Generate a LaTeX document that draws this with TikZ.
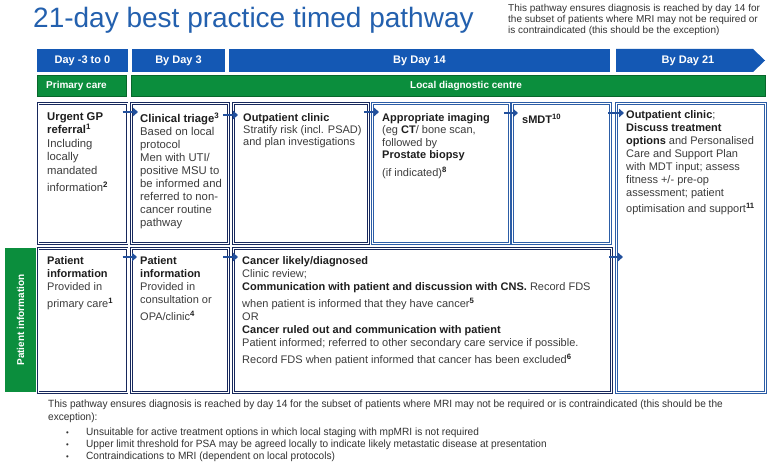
\documentclass[tikz,border=0pt]{standalone}
\usepackage{fontspec}
\setmainfont{Liberation Sans}
\newfontfamily\narrowfont[FakeStretch=0.96]{Liberation Sans}
\usetikzlibrary{arrows.meta}
\definecolor{titleblue}{HTML}{2360AE}
\definecolor{hdrblue}{HTML}{1458B4}
\definecolor{grn}{HTML}{0B8E3D}
\definecolor{grndark}{HTML}{08662B}
\definecolor{navy}{HTML}{17285C}
\definecolor{midblue}{HTML}{2C5DA6}
\definecolor{arrowblue}{HTML}{22509C}
\definecolor{bodygray}{HTML}{3C3C3C}
\definecolor{headgray}{HTML}{1E1E1E}
\definecolor{notegray}{HTML}{333333}
\newcommand{\bhd}[1]{{\bfseries\color{headgray}#1}}
\newcommand{\fnote}[1]{\textsuperscript{\bfseries\color{headgray}#1}}
\begin{document}
\begin{tikzpicture}[x=1pt,y=-1pt,
  hdr/.style={fill=hdrblue, text=white, font=\fontsize{11}{13}\selectfont\bfseries, inner sep=0pt, minimum height=23pt},
  gbar/.style={fill=grn, draw=grndark, line width=0.6pt, inner sep=0pt, minimum height=21pt},
  gtxt/.style={text=white, font=\fontsize{10}{12}\selectfont\bfseries, inner sep=0pt},
  boxbase/.style={anchor=north west, inner sep=0pt, fill=white, line width=1.1pt, double=white, double distance=0.6pt},
  navybox/.style={boxbase, draw=navy},
  bluebox/.style={boxbase, draw=midblue},
  boxtxt/.style={anchor=north west, inner sep=0pt, align=left, text=bodygray, font=\fontsize{11}{13}\selectfont},
  flow/.style={draw=arrowblue, line width=2.8pt, -{Triangle[length=5pt,width=8.5pt]}},
  note/.style={anchor=north west, inner sep=0pt, align=left, text=notegray},
]
\useasboundingbox (0,0) rectangle (770,468);
\fill[white] (0,0) rectangle (770,468);

% title and top note
\node[anchor=base west, inner sep=0pt, text=titleblue, font=\fontsize{28}{32}\selectfont] (title) at (33,28) {21-day best practice timed pathway};
\node[note, font=\fontsize{10}{11}\selectfont] (topnote) at (508,4) {This pathway ensures diagnosis is reached by day 14 for\\ the subset of patients where MRI may not be required or\\ is contraindicated (this should be the exception)};

% header bars
\node[hdr, minimum width=91pt] (h1) at (82.5,60.5) {Day -3 to 0};
\node[hdr, minimum width=93pt] (h2) at (178.5,60.5) {By Day 3};
\node[hdr, minimum width=381pt] (h3) at (419.5,60.5) {By Day 14};
\fill[hdrblue] (616,49) -- (753,49) -- (765,60.5) -- (753,72) -- (616,72) -- cycle;
\node[gtxt, font=\fontsize{11}{13}\selectfont\bfseries] (h4) at (688,60.5) {By Day 21};

% green bars
\node[gbar, minimum width=89pt, anchor=west] (pc) at (37,85.5) {};
\node[gtxt, anchor=west] (pct) at (46,85.5) {Primary care};
\node[gbar, minimum width=634pt] (ldc) at (448,85.5) {};
\node[gtxt] (ldct) at (466,85.5) {Local diagnostic centre};

% patient information side bar
\node[fill=grn, inner sep=0pt, minimum width=31pt, minimum height=144pt, anchor=north west] (pib) at (5,248) {};
\node[gtxt, rotate=90] (pibt) at (20.5,320) {Patient information};

% row 1 boxes
\node[navybox, minimum width=89pt, minimum height=140pt] (b1) at (37.5,103) {};
\node[navybox, minimum width=97pt, minimum height=140pt] (b2) at (131,103) {};
\node[navybox, minimum width=135pt, minimum height=140pt] (b3) at (233,103) {};
\node[bluebox, minimum width=137pt, minimum height=140pt] (b4) at (372,103) {};
\node[bluebox, minimum width=98pt, minimum height=140pt] (b5) at (512,103) {};
\node[bluebox, minimum width=149pt, minimum height=289pt] (b6) at (616,103) {};

% row 2 boxes
\node[navybox, minimum width=89pt, minimum height=144pt] (b7) at (37.5,248) {};
\node[navybox, minimum width=97pt, minimum height=144pt] (b8) at (131,248) {};
\node[navybox, minimum width=378pt, minimum height=144pt] (b9) at (233,248) {};

% box texts
\node[boxtxt, font=\fontsize{11.3}{13.5}\selectfont] (t1) at (47,112) {\bhd{Urgent GP}\\ \bhd{referral}\fnote{1}\\ Including\\ locally\\ mandated\\[4pt] information\fnote{2}};
\node[boxtxt, font=\fontsize{11.3}{13}\selectfont] (t2) at (140,113) {\bhd{Clinical triage}\fnote{3}\\ Based on local\\ protocol\\ Men with UTI/\\ positive MSU to\\ be informed and\\ referred to non-\\ cancer routine\\ pathway};
\node[boxtxt, font=\fontsize{11}{12}\selectfont] (t3) at (243,113) {\bhd{Outpatient clinic}\\ Stratify risk (incl. PSAD)\\ and plan investigations};
\node[boxtxt, font=\fontsize{11}{12.5}\selectfont] (t4) at (382,113) {\bhd{Appropriate imaging}\\ (eg \bhd{CT}/ bone scan,\\ followed by\\ \bhd{Prostate biopsy}\\[5pt] (if indicated)\fnote{8}};
\node[boxtxt] (t5) at (522,114) {\bhd{sMDT}\fnote{10}};
\node[boxtxt] (t6) at (626,110) {\bhd{Outpatient clinic};\\ \bhd{Discuss treatment}\\ \bhd{options} and Personalised\\ Care and Support Plan\\ with MDT input; assess\\ fitness +/- pre-op\\ assessment; patient\\[3pt] optimisation and support\fnote{11}};
\node[boxtxt] (t7) at (47,256) {\bhd{Patient}\\ \bhd{information}\\ Provided in\\[4pt] primary care\fnote{1}};
\node[boxtxt] (t8) at (140,256) {\bhd{Patient}\\ \bhd{information}\\ Provided in\\ consultation or\\[4pt] OPA/clinic\fnote{4}};
\node[boxtxt] (t9) at (242,256) {\bhd{Cancer likely/diagnosed}\\ Clinic review;\\ \bhd{Communication with patient and discussion with CNS.} Record FDS\\[4pt] when patient is informed that they have cancer\fnote{5}\\ OR\\ \bhd{Cancer ruled out and communication with patient}\\ Patient informed; referred to other secondary care service if possible.\\[4pt] Record FDS when patient informed that cancer has been excluded\fnote{6}};

% arrows row 1
\draw[flow] ([xshift=-5pt,yshift=-9pt]b1.north east) -- ([xshift=7pt,yshift=-9pt]b2.north west);
\draw[flow] ([xshift=-6pt,yshift=-12pt]b2.north east) -- ([xshift=5pt,yshift=-12pt]b3.north west);
\draw[flow] ([xshift=-5pt,yshift=-9pt]b3.north east) -- ([xshift=7pt,yshift=-9pt]b4.north west);
\draw[flow] ([xshift=-6pt,yshift=-10pt]b4.north east) -- ([xshift=6pt,yshift=-10pt]b5.north west);
\draw[flow] ([xshift=-3pt,yshift=-10pt]b5.north east) -- ([xshift=8pt,yshift=-10pt]b6.north west);
% arrows row 2
\draw[flow] ([xshift=-5pt,yshift=-9pt]b7.north east) -- ([xshift=6pt,yshift=-9pt]b8.north west);
\draw[flow] ([xshift=-6pt,yshift=-9pt]b8.north east) -- ([xshift=5pt,yshift=-9pt]b9.north west);
\draw[flow] ([xshift=-3pt,yshift=-9pt]b9.north east) -- ([xshift=7pt,yshift=-154pt]b6.north west);

% bottom note
\node[note, font=\narrowfont\fontsize{10.5}{12.5}\selectfont] (bnote) at (48,400) {This pathway ensures diagnosis is reached by day 14 for the subset of patients where MRI may not be required or is contraindicated (this should be the\\ exception):};
\node[note, font=\narrowfont\fontsize{10.5}{12}\selectfont] (blist) at (66,428) {\makebox[20pt][l]{\fontsize{8}{8}\selectfont\raisebox{0.5pt}{•}}Unsuitable for active treatment options in which local staging with mpMRI is not required\\ \makebox[20pt][l]{\fontsize{8}{8}\selectfont\raisebox{0.5pt}{•}}Upper limit threshold for PSA may be agreed locally to indicate likely metastatic disease at presentation\\ \makebox[20pt][l]{\fontsize{8}{8}\selectfont\raisebox{0.5pt}{•}}Contraindications to MRI (dependent on local protocols)};
\end{tikzpicture}
\end{document}
